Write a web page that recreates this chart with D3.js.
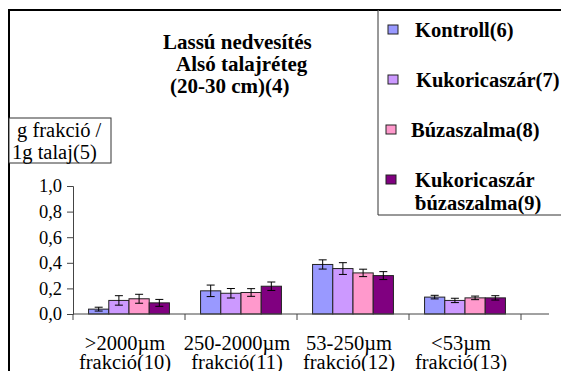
<!DOCTYPE html>
<html>
<head>
<meta charset="utf-8">
<script src="https://cdn.jsdelivr.net/npm/d3@7"></script>
</head>
<body style="margin:0">
<script>
// data
var categories = ['>2000\u00b5m|frakció(10)', '250-2000\u00b5m|frakció(11)', '53-250\u00b5m|frakció(12)', '<53\u00b5m|frakció(13)'];
var seriesNames = ['Kontroll(6)', 'Kukoricaszár(7)', 'Búzaszalma(8)', 'Kukoricaszár|\u0180úzaszalma(9)'];
var kontroll = [0.038, 0.181, 0.387, 0.132];
var kukorica = [0.106, 0.162, 0.355, 0.106];
var buza = [0.119, 0.168, 0.321, 0.126];
var kukBuza = [0.087, 0.217, 0.300, 0.126];
var errKontroll = [0.015, 0.045, 0.036, 0.014];
var errKukorica = [0.037, 0.037, 0.046, 0.017];
var errBuza = [0.035, 0.030, 0.029, 0.014];
var errKukBuza = [0.027, 0.033, 0.031, 0.017];
var yTicks = [0, 0.2, 0.4, 0.6, 0.8, 1.0];
var colors = ['#9999ff', '#cc99ff', '#ff99cc', '#800080'];

var values = [kontroll, kukorica, buza, kukBuza];
var errors = [errKontroll, errKukorica, errBuza, errKukBuza];

var FONT = "'Liberation Serif', 'Times New Roman', serif";
var W = 561, H = 371;
var svg = d3.select('body').append('svg').attr('width', W).attr('height', H);

function txt(x, yy, size, s, bold) {
  return svg.append('text').attr('x', x).attr('y', yy)
    .attr('font-family', FONT).attr('font-size', size)
    .attr('font-weight', bold ? 'bold' : 'normal').text(s);
}

var plot = {left: 73, right: 521, top: 186, bottom: 314};

var x0 = d3.scaleBand().domain(categories).range([plot.left, plot.right]).padding(0);
var x1 = d3.scaleBand().domain(d3.range(seriesNames.length))
    .range([0, x0.bandwidth()]).paddingInner(0).paddingOuter(0.77);
var y = d3.scaleLinear().domain([0, 1]).range([plot.bottom, plot.top]);

// bars + error bars
var groups = svg.selectAll('g.grp').data(categories).enter().append('g')
    .attr('class', 'grp')
    .attr('transform', function(d) { return 'translate(' + x0(d) + ',0)'; });

groups.each(function(cat, ci) {
  var g = d3.select(this);
  for (var s = 0; s < seriesNames.length; s++) {
    var v = values[s][ci], e = errors[s][ci];
    g.append('rect')
      .attr('x', x1(s)).attr('y', y(v))
      .attr('width', x1.bandwidth()).attr('height', y(0) - y(v))
      .attr('fill', colors[s]).attr('stroke', '#222').attr('stroke-width', 1);
    var cx = x1(s) + x1.bandwidth() / 2;
    g.append('line').attr('x1', cx).attr('x2', cx)
      .attr('y1', y(v + e)).attr('y2', y(v - e))
      .attr('stroke', '#000').attr('stroke-width', 1);
    [v + e, v - e].forEach(function(t) {
      g.append('line').attr('x1', cx - 4).attr('x2', cx + 4)
        .attr('y1', y(t)).attr('y2', y(t))
        .attr('stroke', '#000').attr('stroke-width', 1);
    });
  }
});

// y axis
var yAxis = d3.axisLeft(y).tickValues(yTicks).tickSize(6).tickPadding(5)
    .tickFormat(function(d) { return d3.format('.1f')(d).replace('.', ','); });
var ya = svg.append('g').attr('transform', 'translate(' + plot.left + ',0)').call(yAxis);
ya.attr('font-family', FONT);
ya.select('.domain').attr('stroke', '#444');
ya.selectAll('.tick line').attr('stroke', '#444');
ya.selectAll('.tick text').attr('font-size', 18.5).attr('fill', '#000')
  .attr('font-family', FONT);

// x axis, ticks sit on the category borders
var xa = svg.append('g').attr('transform', 'translate(0,' + plot.bottom + ')');
xa.append('line').attr('x1', plot.left).attr('x2', 549).attr('y1', 0).attr('y2', 0)
  .attr('stroke', '#444');
var borders = categories.map(function(c) { return x0(c); }).concat([plot.right]);
xa.selectAll('line.tk').data(borders).enter().append('line').attr('class', 'tk')
  .attr('x1', function(d) { return d; }).attr('x2', function(d) { return d; })
  .attr('y1', 0).attr('y2', 6).attr('stroke', '#444');

categories.forEach(function(c) {
  var parts = c.split('|');
  var cx = x0(c) + x0.bandwidth() / 2 - 4;
  txt(cx, 350, 20.5, parts[0]).attr('text-anchor', 'middle');
  txt(cx, 369, 20.5, parts[1]).attr('text-anchor', 'middle');
});

// outer chart border
svg.append('path').attr('d', 'M9,371 V10 H561').attr('fill', 'none')
  .attr('stroke', '#000').attr('stroke-width', 2);

// title
txt(163, 49, 21, 'Lassú nedvesítés', true);
txt(176, 71, 21, 'Alsó talajréteg', true);
txt(170, 93, 21, '(20-30 cm)(4)', true);

// y title box
svg.append('rect').attr('x', 9).attr('y', 118).attr('width', 102).attr('height', 45)
  .attr('fill', '#fff').attr('stroke', '#333').attr('stroke-width', 1);
txt(17, 137, 20.5, 'g frakció /');
txt(12, 159, 20.5, '1g talaj(5)');

// legend
svg.append('path').attr('d', 'M378,10 V215 H561').attr('fill', '#fff')
  .attr('stroke', '#333').attr('stroke-width', 1);
var legendY = [30, 80, 130, 180];
var legendTx = [415, 416, 411, 415];
seriesNames.forEach(function(name, i) {
  svg.append('rect').attr('x', i < 2 ? 388 : 386).attr('y', legendY[i] - 5)
    .attr('width', 10).attr('height', 9)
    .attr('fill', colors[i]).attr('stroke', '#222').attr('stroke-width', 1);
  name.split('|').forEach(function(p, j) {
    txt(legendTx[i], legendY[i] + 7 + j * 23, 20.5, p, true);
  });
});
</script>
</body>
</html>
